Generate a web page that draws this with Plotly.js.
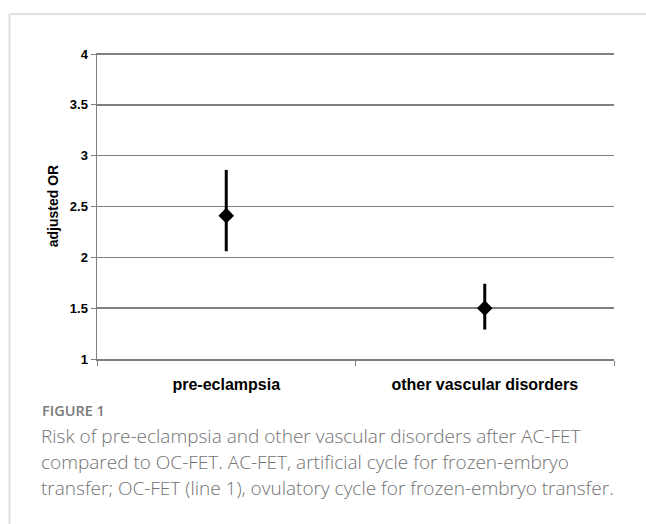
<!DOCTYPE html>
<html>
<head>
<meta charset="utf-8">
<script src="https://cdn.plot.ly/plotly-3.0.1.min.js"></script>
<style>
html,body{margin:0;padding:0;background:#fff;}
#chart{width:646px;height:524px;}
</style>
</head>
<body>
<div id="chart"></div>
<script>
const categories = ["pre-eclampsia", "other vascular disorders"];
const adjustedOR = [2.41, 1.50];
const upperCI = [2.86, 1.74];
const lowerCI = [2.06, 1.29];
const yTickVals = [1, 1.5, 2, 2.5, 3, 3.5, 4];
const yTickText = ["1", "1.5", "2", "2.5", "3", "3.5", "4"];
const captionTitle = "FIGURE 1";
const captionLines = [
  "Risk of pre-eclampsia and other vascular disorders after AC-FET",
  "compared to OC-FET. AC-FET, artificial cycle for frozen-embryo",
  "transfer; OC-FET (line 1), ovulatory cycle for frozen-embryo transfer."
];

const errPlus = adjustedOR.map((v, i) => upperCI[i] - v);
const errMinus = adjustedOR.map((v, i) => v - lowerCI[i]);

const trace = {
  type: "scatter",
  mode: "markers",
  x: categories,
  y: adjustedOR,
  marker: {symbol: "diamond", size: 12, color: "#000"},
  error_y: {type: "data", symmetric: false, array: errPlus, arrayminus: errMinus,
            color: "#000", thickness: 3, width: 0},
  hoverinfo: "skip",
  showlegend: false
};

// plot area: x 97..614, y 53..359 (range padded slightly so top gridline shows)
const L = 97, R = 614, T = 53, B = 359, W = 646, H = 524;
const px = x => (x - L) / (R - L);
const py = y => (B - y) / (B - T);

const annotations = [
  {text: captionTitle, x: px(40), y: py(410), xref: "paper", yref: "paper",
   xanchor: "left", yanchor: "middle", showarrow: false,
   font: {family: "Open Sans", size: 14.5, color: "#7a7a7a", weight: 600}}
];
const lineY = [436, 462, 488];
captionLines.forEach((t, i) => annotations.push({
  text: t, x: px(39), y: py(lineY[i]), xref: "paper", yref: "paper",
  xanchor: "left", yanchor: "middle", showarrow: false,
  font: {family: "Open Sans", size: 19, color: "#727272", weight: 300}
}));

const layout = {
  width: W, height: H,
  margin: {l: L, r: W - R, t: T, b: H - B, pad: 0},
  paper_bgcolor: "#fff", plot_bgcolor: "#fff",
  font: {family: "Liberation Sans, Arial, sans-serif", color: "#000"},
  xaxis: {
    type: "category", range: [-0.5, 1.5],
    showgrid: false, zeroline: false,
    showline: true, linecolor: "#7f7f7f", linewidth: 1.5,
    ticks: "outside", tickson: "boundaries", ticklen: 5, tickcolor: "#7f7f7f", tickwidth: 1,
    ticklabelstandoff: 10,
    tickfont: {family: "Liberation Sans, Arial, sans-serif", size: 16, color: "#000", weight: "bold"},
    fixedrange: true
  },
  yaxis: {
    range: [1, 4.01], tickvals: yTickVals, ticktext: yTickText,
    showgrid: true, gridcolor: "#808080", gridwidth: 1.5, zeroline: false,
    showline: true, linecolor: "#7f7f7f", linewidth: 1.5,
    ticks: "outside", ticklen: 5, tickcolor: "#7f7f7f", tickwidth: 1,
    tickfont: {family: "Liberation Sans, Arial, sans-serif", size: 13, color: "#000", weight: "bold"},
    title: {text: "adjusted OR", standoff: 8,
            font: {family: "Liberation Sans, Arial, sans-serif", size: 14, color: "#000", weight: "bold"}},
    fixedrange: true
  },
  shapes: [
    {type: "line", xref: "paper", yref: "paper", x0: px(9.5), x1: px(W + 5), y0: py(14), y1: py(14),
     line: {color: "#e0e0e0", width: 2}},
    {type: "line", xref: "paper", yref: "paper", x0: px(9.5), x1: px(9.5), y0: py(14), y1: py(H + 5),
     line: {color: "#e0e0e0", width: 2}}
  ],
  annotations: annotations
};

Plotly.newPlot("chart", [trace], layout, {displayModeBar: false, staticPlot: true});
</script>
</body>
</html>
